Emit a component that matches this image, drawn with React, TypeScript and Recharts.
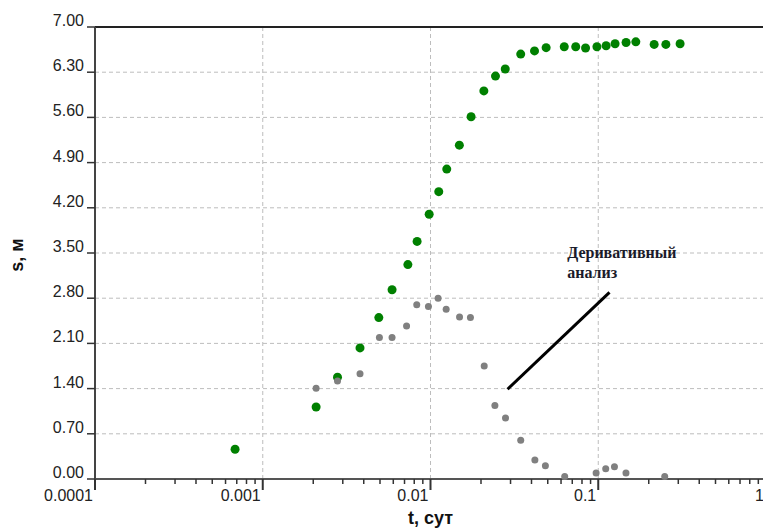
import React from 'react';
import { ScatterChart, Scatter, XAxis, YAxis, CartesianGrid, ReferenceLine, ReferenceDot, Label } from 'recharts';

// drawdown s(t)
const drawT = [0.000684, 0.00208, 0.00279, 0.0038, 0.00492, 0.0059, 0.00733, 0.00832, 0.00982, 0.0112, 0.0125, 0.01486, 0.01746, 0.0208, 0.0244, 0.0279, 0.0345, 0.0417, 0.0489, 0.0627, 0.0734, 0.084, 0.0982, 0.1114, 0.126, 0.1465, 0.1675, 0.2154, 0.253, 0.3076];
const drawS = [0.46, 1.115, 1.575, 2.03, 2.5, 2.93, 3.32, 3.68, 4.1, 4.45, 4.8, 5.17, 5.61, 6.01, 6.24, 6.35, 6.58, 6.63, 6.68, 6.695, 6.695, 6.675, 6.695, 6.71, 6.74, 6.76, 6.77, 6.73, 6.73, 6.74];

// derivative
const derT = [0.00208, 0.00279, 0.0038, 0.00496, 0.0059, 0.0072, 0.00828, 0.00972, 0.0111, 0.0124, 0.0149, 0.0173, 0.0209, 0.0242, 0.028, 0.0345, 0.0419, 0.0484, 0.0631, 0.0971, 0.1108, 0.1249, 0.1463, 0.249];
const derS = [1.405, 1.518, 1.63, 2.19, 2.19, 2.37, 2.7, 2.67, 2.8, 2.63, 2.51, 2.5, 1.75, 1.14, 0.945, 0.6, 0.294, 0.206, 0.04, 0.093, 0.16, 0.19, 0.093, 0.04];

const trendT = [0.0288, 0.1167];
const trendS = [1.39, 2.89];
const noteT = 0.0653;
const noteS = 3.42;

const decades = [0.0001, 0.001, 0.01, 0.1];
const majorTicks = [0.0001, 0.001, 0.01, 0.1, 1];
const xTicks = [...decades.flatMap((d) => [1, 2, 3, 4, 5, 6, 7, 8, 9].map((k) => d * k)), 1];
const yTicks = [0, 0.7, 1.4, 2.1, 2.8, 3.5, 4.2, 4.9, 5.6, 6.3, 7.0];
const gridT = [0.001, 0.01, 0.1];

const drawData = drawT.map((t, i) => ({ t, s: drawS[i] }));
const derData = derT.map((t, i) => ({ t, s: derS[i] }));
const trend = trendT.map((t, i) => ({ x: t, y: trendS[i] }));

const FONT = '"Liberation Sans", Arial, sans-serif';

const XTick = (props: any) => {
  const { x, y, payload } = props;
  const v = payload.value;
  const major = majorTicks.includes(v);
  return (
    <g>
      <line x1={x} x2={x} y1={y} y2={y + (major ? 11 : 5)} stroke="#333" strokeWidth={major ? 2 : 1.5} />
      {major && (
        <text x={x - 2} y={y + 22} textAnchor="end" fontSize={16} fontFamily={FONT} fill="#222">
          {String(v)}
        </text>
      )}
    </g>
  );
};

const YTick = (props: any) => {
  const { x, y, payload } = props;
  return (
    <g>
      <line x1={x - 8} x2={x} y1={y} y2={y} stroke="#333" strokeWidth={1.5} />
      <text x={x - 11} y={y - 1} textAnchor="end" fontSize={16} fontFamily={FONT} fill="#222">
        {payload.value.toFixed(2)}
      </text>
    </g>
  );
};

const dot = (color: string, r: number) => (p: any) => <circle cx={p.cx} cy={p.cy} r={r} fill={color} />;

export default function App() {
  return (
    <div style={{ position: 'absolute', left: 0, top: 0, width: 763, height: 529, background: '#fff', overflow: 'hidden' }}>
      <ScatterChart width={763} height={529} margin={{ top: 27, right: -3, bottom: 0, left: 0 }}>
        <CartesianGrid vertical={false} stroke="#bdbdbd" strokeDasharray="4 3" />
        {gridT.map((t) => (
          <ReferenceLine key={t} x={t} stroke="#bdbdbd" strokeDasharray="4 3" />
        ))}
        <XAxis
          type="number"
          dataKey="t"
          scale="log"
          domain={[0.0001, 1]}
          ticks={xTicks}
          interval={0}
          allowDataOverflow
          height={50}
          tickSize={0}
          tickMargin={0}
          tickLine={false}
          axisLine={{ stroke: '#555', strokeWidth: 2 }}
          tick={XTick}
        >
          <Label
            content={(p: any) => (
              <text
                x={p.viewBox.x + p.viewBox.width / 2}
                y={p.viewBox.y + 45}
                textAnchor="middle"
                fontSize={18}
                fontWeight="bold"
                fontFamily={FONT}
                fill="#111"
              >
                t, сут
              </text>
            )}
          />
        </XAxis>
        <YAxis
          type="number"
          dataKey="s"
          domain={[0, 7]}
          ticks={yTicks}
          interval={0}
          width={95}
          tickSize={0}
          tickMargin={0}
          tickLine={false}
          axisLine={{ stroke: '#444', strokeWidth: 2 }}
          tick={YTick}
        >
          <Label
            content={(p: any) => {
              const cx = p.viewBox.x + 23;
              const cy = p.viewBox.y + p.viewBox.height / 2 + 2;
              return (
                <text
                  x={cx}
                  y={cy}
                  textAnchor="middle"
                  transform={`rotate(-90 ${cx} ${cy})`}
                  fontSize={18}
                  fontWeight="bold"
                  fontFamily={FONT}
                  fill="#111"
                >
                  s, м
                </text>
              );
            }}
          />
        </YAxis>
        <ReferenceLine y={7} stroke="#222" strokeWidth={2} />
        <Scatter data={drawData} fill="#008000" shape={dot('#008000', 4.5)} isAnimationActive={false} />
        <Scatter data={derData} fill="#808080" shape={dot('#808080', 3.5)} isAnimationActive={false} />
        <ReferenceLine segment={trend} stroke="#000" strokeWidth={3} />
        <ReferenceDot
          x={noteT}
          y={noteS}
          r={0}
          shape={(p: any) => (
            <text x={p.cx} y={p.cy} fontSize={16} fontWeight="bold" fontFamily='"Liberation Serif", "Times New Roman", serif' fill="#1b1b2a">
              <tspan x={p.cx}>Деривативный</tspan>
              <tspan x={p.cx} dy={20}>анализ</tspan>
            </text>
          )}
        />
      </ScatterChart>
    </div>
  );
}
